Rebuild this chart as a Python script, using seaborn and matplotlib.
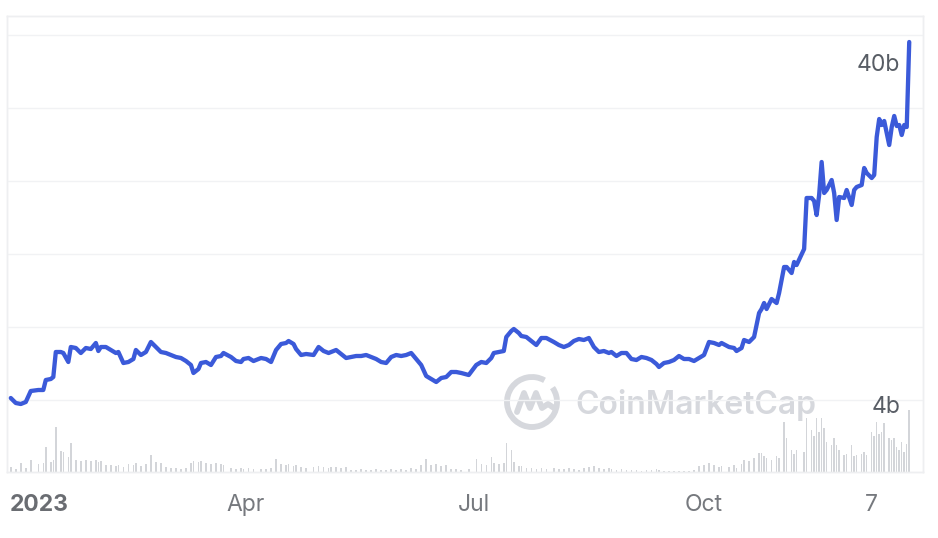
import numpy as np
import pandas as pd
import seaborn as sns
import matplotlib
matplotlib.use("Agg")
import matplotlib.pyplot as plt
import matplotlib.dates as mdates
from matplotlib.patches import Arc
from matplotlib.transforms import ScaledTranslation

# sample dates
dates = [
    "2022-12-28", "2022-12-30", "2023-01-01", "2023-01-03", "2023-01-05", "2023-01-08", "2023-01-10", "2023-01-11", "2023-01-13", "2023-01-14",
    "2023-01-15", "2023-01-17", "2023-01-18", "2023-01-20", "2023-01-21", "2023-01-23", "2023-01-25", "2023-01-27", "2023-01-29", "2023-01-31",
    "2023-02-01", "2023-02-02", "2023-02-04", "2023-02-06", "2023-02-08", "2023-02-09", "2023-02-11", "2023-02-13", "2023-02-15", "2023-02-16",
    "2023-02-18", "2023-02-20", "2023-02-22", "2023-02-24", "2023-02-26", "2023-02-28", "2023-03-02", "2023-03-04", "2023-03-06", "2023-03-08",
    "2023-03-10", "2023-03-11", "2023-03-13", "2023-03-14", "2023-03-16", "2023-03-18", "2023-03-20", "2023-03-22", "2023-03-23", "2023-03-26",
    "2023-03-28", "2023-03-30", "2023-03-31", "2023-04-02", "2023-04-04", "2023-04-07", "2023-04-09", "2023-04-11", "2023-04-13", "2023-04-15",
    "2023-04-17", "2023-04-18", "2023-04-20", "2023-04-21", "2023-04-23", "2023-04-25", "2023-04-28", "2023-04-30", "2023-05-02", "2023-05-04",
    "2023-05-05", "2023-05-07", "2023-05-09", "2023-05-11", "2023-05-13", "2023-05-15", "2023-05-17", "2023-05-19", "2023-05-21", "2023-05-23",
    "2023-05-25", "2023-05-27", "2023-05-29", "2023-05-31", "2023-06-02", "2023-06-04", "2023-06-06", "2023-06-08", "2023-06-10", "2023-06-12",
    "2023-06-14", "2023-06-16", "2023-06-18", "2023-06-20", "2023-06-22", "2023-06-24", "2023-06-26", "2023-06-29", "2023-07-02", "2023-07-04",
    "2023-07-06", "2023-07-08", "2023-07-09", "2023-07-11", "2023-07-13", "2023-07-14", "2023-07-16", "2023-07-17", "2023-07-19", "2023-07-20",
    "2023-07-22", "2023-07-24", "2023-07-26", "2023-07-28", "2023-07-30", "2023-08-02", "2023-08-04", "2023-08-06", "2023-08-08", "2023-08-10",
    "2023-08-12", "2023-08-14", "2023-08-16", "2023-08-18", "2023-08-20", "2023-08-22", "2023-08-24", "2023-08-25", "2023-08-27", "2023-08-29",
    "2023-08-31", "2023-09-02", "2023-09-04", "2023-09-06", "2023-09-08", "2023-09-10", "2023-09-12", "2023-09-13", "2023-09-15", "2023-09-17",
    "2023-09-19", "2023-09-21", "2023-09-23", "2023-09-25", "2023-09-27", "2023-09-29", "2023-10-01", "2023-10-03", "2023-10-05", "2023-10-07",
    "2023-10-08", "2023-10-11", "2023-10-13", "2023-10-14", "2023-10-16", "2023-10-17", "2023-10-19", "2023-10-21", "2023-10-23", "2023-10-24",
    "2023-10-25", "2023-10-26", "2023-10-28", "2023-10-30", "2023-10-31", "2023-11-02", "2023-11-03", "2023-11-05", "2023-11-06", "2023-11-07",
    "2023-11-10", "2023-11-11", "2023-11-13", "2023-11-14", "2023-11-15", "2023-11-16", "2023-11-17", "2023-11-18", "2023-11-19", "2023-11-21",
    "2023-11-22", "2023-11-23", "2023-11-24", "2023-11-26", "2023-11-27", "2023-11-29", "2023-11-30", "2023-12-01", "2023-12-03", "2023-12-04",
    "2023-12-05", "2023-12-07", "2023-12-08", "2023-12-09", "2023-12-10", "2023-12-11", "2023-12-12", "2023-12-14", "2023-12-15", "2023-12-16",
    "2023-12-17", "2023-12-18", "2023-12-19", "2023-12-20", "2023-12-21", "2023-12-22",
]

# market cap, billions USD
market_cap = [
    4.2, 3.7, 3.6, 3.8, 4.9, 5.0, 5.0, 6.0, 6.1, 6.3,
    8.8, 8.8, 8.7, 7.8, 9.3, 9.2, 8.7, 9.2, 9.1, 9.7,
    8.9, 9.3, 9.3, 9.0, 8.7, 8.8, 7.7, 7.8, 8.1, 9.0,
    8.5, 8.8, 9.8, 9.3, 8.8, 8.7, 8.5, 8.3, 8.2, 7.9,
    7.5, 6.7, 7.1, 7.7, 7.8, 7.5, 8.3, 8.4, 8.7, 8.3,
    7.9, 7.8, 8.1, 8.2, 7.9, 8.2, 8.1, 7.8, 9.0, 9.6,
    9.7, 9.9, 9.6, 9.1, 8.5, 8.6, 8.5, 9.3, 8.9, 8.7,
    8.8, 9.0, 8.6, 8.2, 8.3, 8.4, 8.4, 8.5, 8.3, 8.1,
    7.8, 7.7, 8.3, 8.5, 8.4, 8.5, 8.7, 8.1, 7.5, 6.4,
    6.1, 5.8, 6.2, 6.3, 6.8, 6.8, 6.7, 6.5, 7.5, 7.8,
    7.7, 8.2, 8.7, 8.8, 8.9, 10.3, 10.9, 11.1, 10.7, 10.4,
    10.3, 9.9, 9.5, 10.2, 10.2, 9.8, 9.5, 9.3, 9.5, 9.9,
    10.1, 10.0, 10.2, 9.3, 8.8, 8.9, 8.7, 8.8, 8.4, 8.7,
    8.7, 8.1, 8.0, 8.3, 8.2, 8.0, 7.6, 7.3, 7.7, 7.8,
    8.0, 8.4, 8.1, 8.1, 7.9, 8.2, 8.5, 9.8, 9.7, 9.5,
    9.7, 9.3, 9.2, 8.9, 9.2, 10.0, 9.8, 10.3, 12.7, 13.1,
    13.7, 13.1, 14.1, 13.7, 14.7, 17.3, 17.3, 16.7, 17.8, 17.5,
    19.1, 24.2, 24.2, 23.9, 22.5, 24.5, 27.8, 24.7, 25.0, 26.0,
    24.7, 22.0, 24.3, 24.2, 25.0, 23.5, 25.0, 25.3, 25.5, 27.2,
    26.7, 26.2, 26.5, 30.3, 32.1, 31.5, 31.9, 29.5, 31.3, 32.4,
    31.4, 31.5, 30.5, 31.5, 31.3, 39.8,
]

# traded volume, billions USD
volume = [
    0.5, 0.3, 0.9, 0.4, 1.2, 0.8, 0.9, 2.5, 1.0, 1.2,
    4.5, 2.1, 2.0, 1.5, 2.9, 1.2, 1.1, 1.2, 1.1, 1.2,
    1.0, 1.1, 0.7, 0.7, 0.6, 0.7, 0.5, 0.8, 0.7, 0.9,
    0.6, 0.8, 1.7, 1.0, 0.9, 0.5, 0.4, 0.4, 0.3, 0.4,
    0.9, 1.1, 1.0, 1.1, 0.9, 0.8, 0.9, 0.8, 0.7, 0.4,
    0.3, 0.4, 0.3, 0.4, 0.3, 0.3, 0.3, 0.4, 1.3, 0.8,
    0.7, 0.8, 0.6, 0.7, 0.5, 0.4, 0.5, 0.6, 0.5, 0.4,
    0.5, 0.5, 0.4, 0.5, 0.2, 0.2, 0.3, 0.2, 0.2, 0.3,
    0.2, 0.2, 0.3, 0.2, 0.3, 0.2, 0.4, 0.3, 0.7, 1.3,
    0.7, 0.8, 0.6, 0.7, 0.3, 0.3, 0.2, 0.3, 1.3, 0.8,
    0.7, 1.5, 0.9, 0.8, 0.9, 2.9, 2.2, 1.0, 0.6, 0.6,
    0.4, 0.4, 0.3, 0.4, 0.3, 0.4, 0.3, 0.3, 0.4, 0.3,
    0.2, 0.4, 0.5, 0.6, 0.4, 0.3, 0.4, 0.3, 0.2, 0.3,
    0.2, 0.2, 0.2, 0.1, 0.2, 0.2, 0.3, 0.2, 0.1, 0.1,
    0.1, 0.1, 0.1, 0.1, 0.2, 0.6, 0.7, 0.9, 0.7, 0.5,
    0.6, 0.5, 0.7, 0.4, 0.8, 1.2, 1.1, 1.4, 1.9, 1.9,
    1.6, 1.4, 1.2, 1.6, 1.4, 5.0, 3.4, 2.2, 1.8, 2.2,
    2.0, 5.4, 4.2, 3.6, 5.4, 4.0, 5.4, 4.4, 3.0, 2.7,
    3.4, 2.7, 2.2, 1.7, 1.8, 2.7, 1.6, 1.7, 1.8, 2.0,
    1.7, 4.0, 3.6, 5.0, 3.8, 4.0, 4.9, 3.4, 3.2, 3.4,
    2.5, 2.2, 3.0, 2.0, 2.8, 6.2,
]

tick_dates = ["2023-01-01", "2023-04-01", "2023-07-01", "2023-10-01", "2023-12-07"]
tick_labels = ["2023", "Apr", "Jul", "Oct", "7"]
grid_levels = [4.0, 11.3, 18.6, 25.9, 33.2, 40.5]
label_high = "40b"
label_low = "4b"
watermark = "CoinMarketCap"

df = pd.DataFrame({"date": pd.to_datetime(dates), "cap": market_cap, "vol": volume})

sns.set_theme(style="white")
plt.rcParams["font.family"] = ["Inter", "DejaVu Sans"]

W, H = 938, 538
fig = plt.figure(figsize=(W / 100, H / 100), dpi=100)
fig.patch.set_facecolor("white")

# pixel overlay for the watermark logo
bg = fig.add_axes([0, 0, 1, 1])
bg.set_xlim(0, W)
bg.set_ylim(H, 0)
bg.axis("off")
wm_color = "#d6d8dd"
cx, cy, r = 532, 402, 25
bg.add_patch(Arc((cx, cy), 2 * r, 2 * r, theta1=-35, theta2=300, color=wm_color, lw=4.2))
bg.plot([cx - 15, cx - 8, cx - 2, cx + 4, cx + 10, cx + 16, cx + 22],
        [cy + 10, cy - 9, cy + 6, cy - 9, cy + 6, cy + 2, cy + 6],
        color=wm_color, lw=4.2, solid_capstyle="round", solid_joinstyle="round")
bg.text(575, 414, watermark, color=wm_color, fontsize=23, fontweight="semibold",
        ha="left", va="baseline")

left, right, top, bottom = 7, 923, 16, 472
rect = [left / W, (H - bottom) / H, (right - left) / W, (bottom - top) / H]
ax_vol = fig.add_axes(rect)
ax_vol.patch.set_visible(False)
ax_vol.bar(df["date"], df["vol"], width=0.6, color="#d3d5d9", linewidth=0)
ax_vol.set_ylim(0, 45.6)
ax_vol.set_yticks([])

ax = fig.add_axes(rect, sharex=ax_vol)
ax.patch.set_visible(False)
sns.lineplot(data=df, x="date", y="cap", ax=ax, color="#3b5ad9", linewidth=3.1)
for ln in ax.lines:
    ln.set_solid_joinstyle("round")
    ln.set_solid_capstyle("round")
ax.set_ylim(-3.2, 42.4)
ax.set_yticks(grid_levels)
ax.yaxis.grid(True, color="#f1f2f4", linewidth=1)
ax.tick_params(axis="y", length=0, labelleft=False)
ax.set_xlabel("")
ax.set_ylabel("")

ax.set_xlim(pd.Timestamp("2022-12-26 12:00"), pd.Timestamp("2023-12-27 12:00"))
ax.set_xticks(pd.to_datetime(tick_dates))
ax.set_xticklabels(tick_labels)
ax.tick_params(axis="x", length=0, pad=16, labelsize=16.5, colors="#76797e")
first = ax.get_xticklabels()[0]
first.set_fontweight("bold")
first.set_color("#6a6d72")
first.set_horizontalalignment("left")
first.set_transform(first.get_transform() + ScaledTranslation(-11 / 100, 0, fig.dpi_scale_trans))
ax_vol.tick_params(axis="x", labelbottom=False, length=0)

for a in (ax, ax_vol):
    for s in a.spines.values():
        s.set_color("#eeeff1")
        s.set_linewidth(1)

ax.text(0.975, 0.8925, label_high, transform=ax.transAxes, ha="right", va="center",
        fontsize=16.5, color="#585d65")
ax.text(0.975, 0.1425, label_low, transform=ax.transAxes, ha="right", va="center",
        fontsize=16.5, color="#585d65")

fig.savefig("out.png", dpi=100, facecolor="white")
